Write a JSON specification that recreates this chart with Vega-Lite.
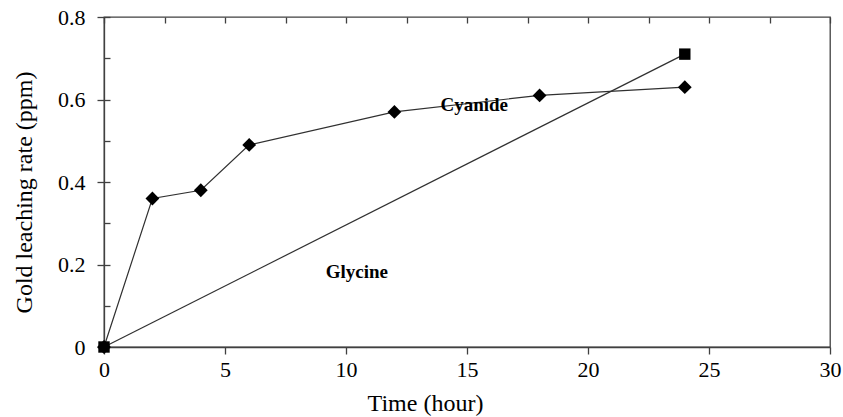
{
  "$schema": "https://vega.github.io/schema/vega-lite/v6.json",
  "width": 726,
  "height": 330,
  "autosize": {"type": "none"},
  "padding": {"left": 104, "top": 17, "right": 13, "bottom": 70},
  "background": "white",
  "config": {
    "view": {"stroke": "#404040", "strokeWidth": 1.3},
    "font": "Liberation Serif, Times New Roman, Times, serif",
    "axis": {"domainColor": "#404040", "tickColor": "#404040", "labelColor": "black", "titleColor": "black", "labelFont": "Liberation Serif, Times New Roman, Times, serif", "titleFont": "Liberation Serif, Times New Roman, Times, serif", "labelFontSize": 22, "titleFontSize": 24, "titleFontWeight": "normal", "domainWidth": 1.3, "tickWidth": 1.3, "gridColor": "#404040", "gridWidth": 1.3, "gridOpacity": 1, "gridDash": [6, 3000], "labelFlush": false}
  },
  "datasets": {
    "cyanide": [
      {"t": 0, "v": 0}, {"t": 2, "v": 0.36}, {"t": 4, "v": 0.38}, {"t": 6, "v": 0.49},
      {"t": 12, "v": 0.57}, {"t": 18, "v": 0.61}, {"t": 24, "v": 0.63}
    ],
    "glycine": [{"t": 0, "v": 0}, {"t": 24, "v": 0.71}],
    "labels": [
      {"t": 15.3, "v": 0.587, "label": "Cyanide"},
      {"t": 10.45, "v": 0.182, "label": "Glycine"}
    ]
  },
  "encoding": {
    "x": {"field": "t", "type": "quantitative", "scale": {"domain": [0, 30], "nice": false},
      "axis": {"values": [0, 2.5, 5, 7.5, 10, 12.5, 15, 17.5, 20, 22.5, 25, 27.5, 30], "grid": true,
        "tickSize": {"condition": {"test": "datum.value % 5 === 0", "value": 7}, "value": 0},
        "labelExpr": "datum.value % 5 === 0 ? datum.label : ''",
        "labelPadding": 5, "title": "Time (hour)", "titlePadding": 11, "titleX": 321}},
    "y": {"field": "v", "type": "quantitative", "scale": {"domain": [0, 0.8], "nice": false},
      "axis": {"values": [0, 0.1, 0.2, 0.3, 0.4, 0.5, 0.6, 0.7, 0.8], "grid": true,
        "tickSize": {"condition": {"test": "round(datum.value*10) % 2 === 0", "value": 7}, "value": 0},
        "labelExpr": "round(datum.value*10) % 2 === 0 ? format(datum.value, '~g') : ''",
        "labelPadding": 12, "title": "Gold leaching rate (ppm)", "titlePadding": 21, "titleY": 175}}
  },
  "layer": [
    {
      "data": {"name": "cyanide"},
      "mark": {"type": "line", "color": "#303030", "strokeWidth": 1.2}
    },
    {
      "data": {"name": "glycine"},
      "mark": {"type": "line", "color": "#303030", "strokeWidth": 1.2}
    },
    {
      "data": {"name": "cyanide"},
      "mark": {"type": "point", "shape": "diamond", "filled": true, "color": "black", "size": 190, "opacity": 1}
    },
    {
      "data": {"name": "glycine"},
      "mark": {"type": "point", "shape": "square", "filled": true, "color": "black", "size": 130, "opacity": 1}
    },
    {
      "data": {"name": "labels"},
      "mark": {"type": "text", "font": "Liberation Serif, Times New Roman, Times, serif", "fontWeight": "bold", "fontSize": 19, "color": "black"},
      "encoding": {"text": {"field": "label"}}
    }
  ]
}
